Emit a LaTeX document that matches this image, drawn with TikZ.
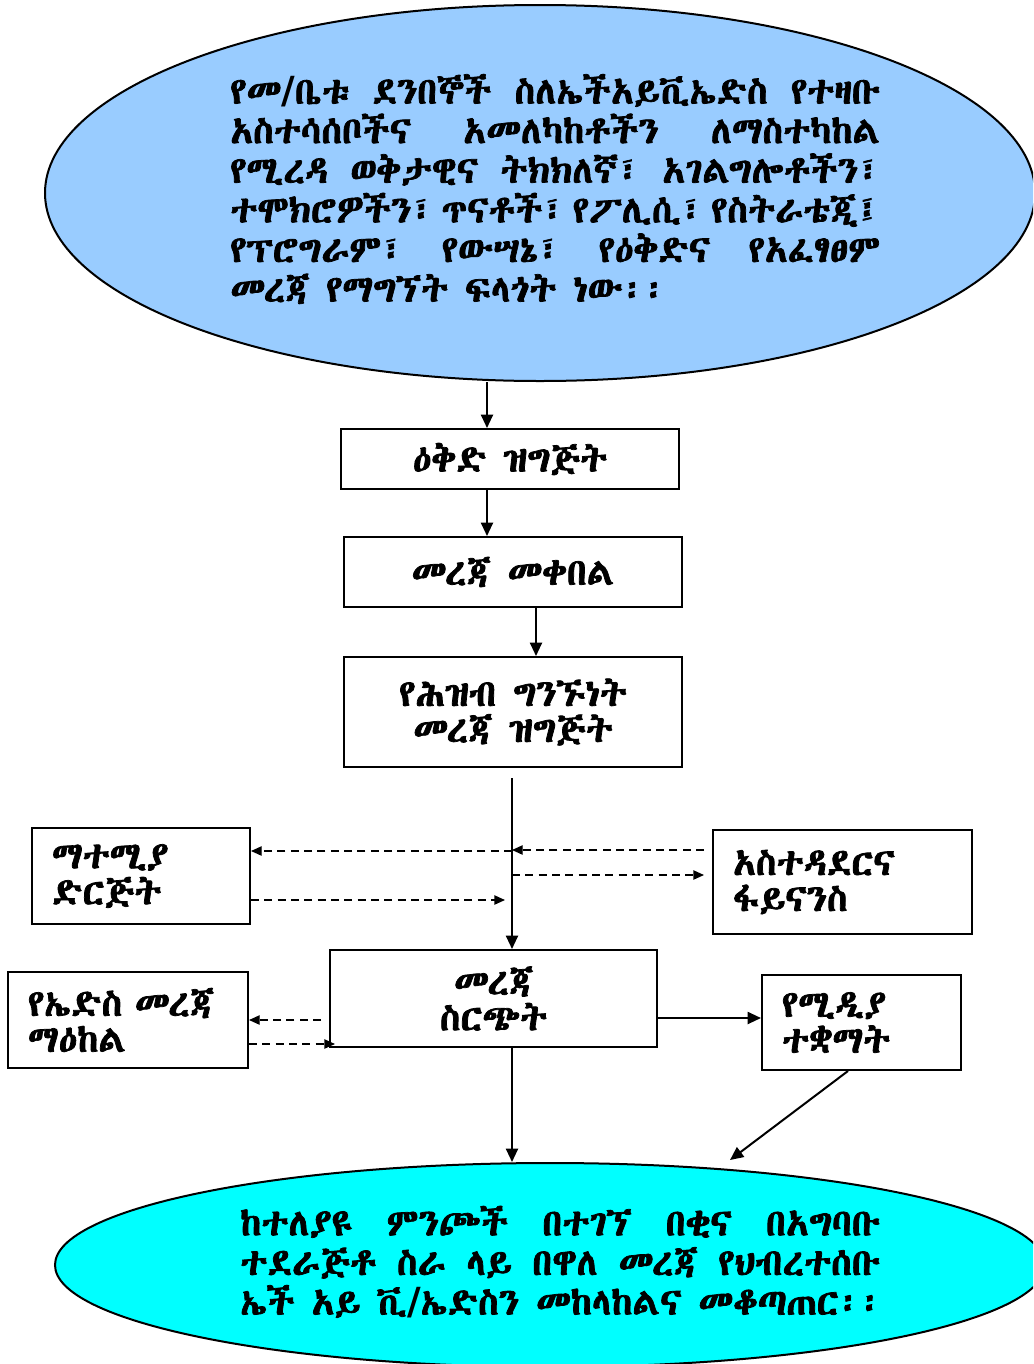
\documentclass[tikz,border=0pt]{standalone}
\usepackage{fontspec}
\usetikzlibrary{arrows.meta,shapes.geometric}
\IfFontExistsTF{Abyssinica SIL}{\setmainfont{Abyssinica SIL}[FakeBold=2]}{%
\IfFontExistsTF{FreeSerif}{\setmainfont{FreeSerif}}{%
\IfFontExistsTF{FreeSans}{\setmainfont{FreeSans}}{%
\IfFontExistsTF{Ebrima}{\setmainfont{Ebrima}}{%
\IfFontExistsTF{Nyala}{\setmainfont{Nyala}[FakeBold=2]}{%
\IfFontExistsTF{GF Zemen Unicode}{\setmainfont{GF Zemen Unicode}[FakeBold=2]}{%
\IfFontExistsTF{Code2000}{\setmainfont{Code2000}[FakeBold=2]}{%
\setmainfont{Noto Sans}}}}}}}}
\newfontfamily\latinf{DejaVu Sans}
\newcommand\slh{{\latinf\bfseries /}}
\newcommand\jl[2]{\hbox to #1{\spaceskip=0.2em plus 1fil\relax #2}}
\definecolor{topblue}{HTML}{99CCFF}
\definecolor{aqua}{RGB}{0,255,255}
\begin{document}
\begin{tikzpicture}[x=0.75pt,y=-0.75pt,
 box/.style={draw,line width=1.5pt,rectangle,align=center,font=\bfseries\fontsize{28}{27}\selectfont},
 lbox/.style={box,align=left,inner xsep=15pt},
 arr/.style={line width=1.5pt,-{Triangle[length=10pt,width=9pt]}},
 darr/.style={line width=1pt,dash pattern=on 6pt off 4pt,-{Triangle[length=8pt,width=7pt]}},
 txt/.style={font=\bfseries\fontsize{28}{29.7}\selectfont,align=left,inner sep=0pt}]
\useasboundingbox (0,0) rectangle (1033,1364);
\clip (0,0) rectangle (1033,1364);
\node[ellipse,draw,line width=1.5pt,fill=topblue,minimum width=742.5pt,minimum height=282pt,inner sep=0pt] (top) at (540,193) {};
\node[txt,anchor=west] (toptext) at (230,189) {\jl{487.5pt}{የመ\slh ቤቱ ደንበኞች ስለኤችአይቪኤድስ የተዛቡ}\\
\jl{487.5pt}{አስተሳሰቦችና አመለካከቶችን ለማስተካከል}\\
\jl{487.5pt}{የሚረዳ ወቅታዊና ትክክለኛ፣ አገልግሎቶችን፣}\\
\jl{487.5pt}{ተሞክሮዎችን፣ ጥናቶች፣ የፖሊሲ፣ የስትራቴጂ፤}\\
\jl{487.5pt}{የፕሮግራም፣ የውሣኔ፣ የዕቅድና የአፈፃፀም}\\
መረጃ የማግኘት ፍላጎት ነው፡፡};
\node[box,minimum width=253.5pt,minimum height=45pt] (b1) at (510,459) {ዕቅድ ዝግጅት};
\node[box,minimum width=253.5pt,minimum height=52.5pt] (b2) at (513,572) {መረጃ መቀበል};
\node[box,minimum width=253.5pt,minimum height=82.5pt] (b3) at (513,712) {የሕዝብ ግንኙነት\\መረጃ ዝግጅት};
\node[lbox,text width=133.5pt,minimum height=72pt] (b4) at (141,876) {ማተሚያ\\ድርጅት};
\node[lbox,text width=164.25pt,minimum height=78pt] (b5) at (842.5,882) {አስተዳደርና\\ፋይናንስ};
\node[box,minimum width=245.25pt,minimum height=72.75pt] (b6) at (493.5,998.5) {መረጃ\\ስርጭት};
\node[lbox,text width=150pt,minimum height=72pt] (b7) at (128,1020) {የኤድስ መረጃ\\ማዕከል};
\node[lbox,text width=119.25pt,minimum height=71.25pt] (b8) at (861.5,1022.5) {የሚዲያ\\ተቋማት};
\node[ellipse,draw,line width=1.5pt,fill=aqua,minimum width=742.5pt,minimum height=153pt,inner sep=0pt] (bot) at (550,1265) {};
\node[txt,anchor=west] (bottext) at (240,1262) {\jl{480pt}{ከተለያዩ ምንጮች በተገኘ በቂና በአግባቡ}\\
\jl{480pt}{ተደራጅቶ ስራ ላይ በዋለ መረጃ የህብረተሰቡ}\\
ኤች አይ ቪ\slh ኤድስን መከላከልና መቆጣጠር፡፡};
\coordinate (x487) at (487,0);
\coordinate (x536) at (536,0);
\coordinate (x512) at (512,0);
\coordinate (x848) at (848,0);
\draw[arr] (top.south -| x487) -- (b1.north -| x487);
\draw[arr] (b1.south -| x487) -- (b2.north -| x487);
\draw[arr] (b2.south -| x536) -- (b3.north -| x536);
\coordinate (s3) at (512,778);
\draw[arr] (s3) -- (b6.north -| x512);
\coordinate (d1) at (512,851);
\draw[darr] (d1) -- (b4.east |- d1);
\coordinate (d2) at (505,900);
\draw[darr] (b4.east |- d2) -- (d2);
\coordinate (d3) at (512,850);
\draw[darr,shorten <=6pt] (b5.west |- d3) -- (d3);
\coordinate (d4) at (512,875);
\draw[darr,shorten >=6pt] (d4) -- (b5.west |- d4);
\coordinate (d5) at (0,1020);
\draw[darr,shorten <=6pt] (b6.west |- d5) -- (b7.east |- d5);
\coordinate (d6) at (335,1044);
\draw[darr] (b7.east |- d6) -- (d6);
\coordinate (m1) at (0,1018);
\draw[arr] (b6.east |- m1) -- (b8.west |- m1);
\draw[arr] (b6.south -| x512) -- (bot.north -| x512);
\coordinate (e2) at (730,1160);
\draw[arr] (b8.south -| x848) -- (e2);
\end{tikzpicture}
\end{document}
